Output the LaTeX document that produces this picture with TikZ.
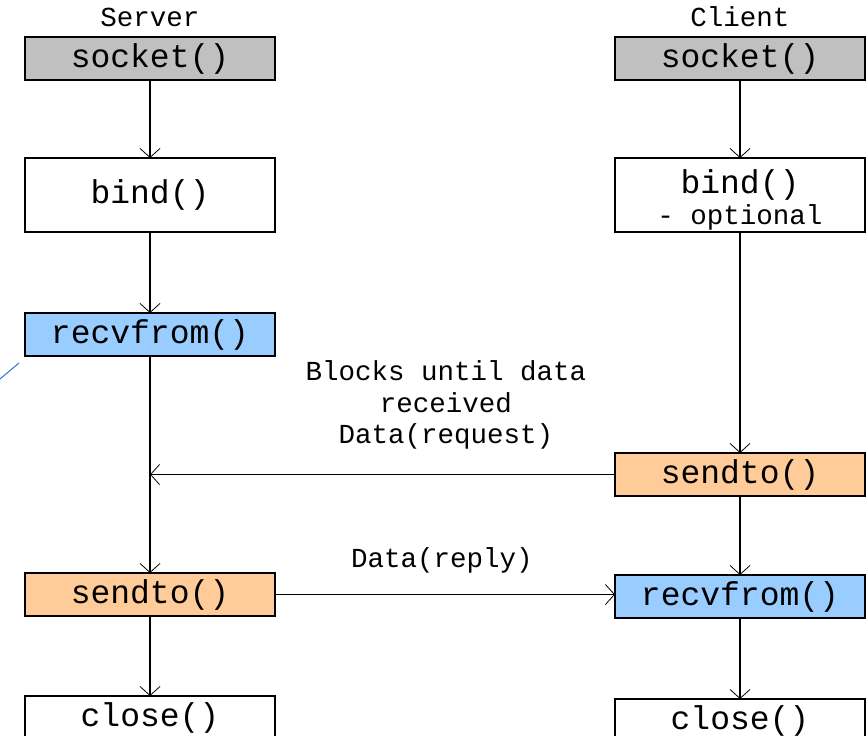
\documentclass[tikz,border=0pt]{standalone}
\usepackage{fontspec}
\setmonofont{Liberation Mono}
\usetikzlibrary{positioning, arrows.meta}

\definecolor{sockgray}{RGB}{192,192,192}
\definecolor{recvblue}{RGB}{153,204,255}
\definecolor{sendorange}{RGB}{255,204,153}
\definecolor{strayblue}{RGB}{40,120,210}

\newcommand{\bigmono}{\ttfamily\fontsize{33}{38}\selectfont}
\newcommand{\smallmono}{\ttfamily\fontsize{27.5}{31.5}\selectfont}

\begin{document}
\begin{tikzpicture}[
    x=1pt, y=1pt,
    box/.style={draw=black, line width=1.5pt, minimum width=250pt, minimum height=43pt,
                inner sep=0pt, outer sep=0pt, font=\bigmono},
    lab/.style={inner sep=0pt, font=\smallmono},
    flow/.style={line width=1.5pt, -{Straight Barb[length=9pt, width=20pt, line width=0.8pt]}}
]
\useasboundingbox (0,0) rectangle (868,-736);
\clip (0,0) rectangle (868,-736);

% --- server side ---
\node[box, fill=sockgray] (ssocket) at (150,-58.5) {socket()};
\node[box, minimum height=74pt, below=78pt of ssocket] (sbind) {bind()};
\node[box, fill=recvblue, below=81pt of sbind] (srecv) {recvfrom()};
\node[box, fill=sendorange, below=217pt of srecv] (ssend) {sendto()};
\node[box, below=80pt of ssend] (sclose) {close()};

% --- client side ---
\node[box, fill=sockgray] (csocket) at (740,-58.5) {socket()};
\node[box, minimum height=74pt, below=78pt of csocket, align=center] (cbind)
    {\rule{0pt}{34pt}bind()\\[-7pt]{\smallmono - optional}};
\node[box, fill=sendorange, below=221pt of cbind] (csend) {sendto()};
\node[box, fill=recvblue, below=79pt of csend] (crecv) {recvfrom()};
\node[box, below=81pt of crecv] (cclose) {close()};

% column titles
\node[lab, anchor=base] (stitle) at (150,-27) {Server};
\node[lab, anchor=base] (ctitle) at (740,-27) {Client};

% message labels
\node[lab, align=center] (reqlab) at (446,-405) {Blocks until data\\received\\Data(request)};
\node[lab, anchor=base] (replab) at (442,-567) {Data(reply)};

% --- calls down each column ---
\draw[flow] (ssocket) -- (sbind);
\draw[flow] (sbind) -- (srecv);
\draw[flow] (srecv) -- (ssend);
\draw[flow] (ssend) -- (sclose);

\draw[flow] (csocket) -- (cbind);
\draw[flow] (cbind) -- (csend);
\draw[flow] (csend) -- (crecv);
\draw[flow] (crecv) -- (cclose);

% --- data exchange ---
\coordinate (sreq) at (csend.west -| srecv.south);
\draw[flow] (csend.west) -- (sreq);
\coordinate (crep) at (ssend.east -| crecv.west);
\draw[flow] (ssend.east) -- (crep);

% stray mark at left edge
\coordinate (mark1) at (0,-379);
\coordinate (mark2) at (19,-363);
\draw[strayblue, line width=1pt] (mark1) -- (mark2);

\end{tikzpicture}
\end{document}
